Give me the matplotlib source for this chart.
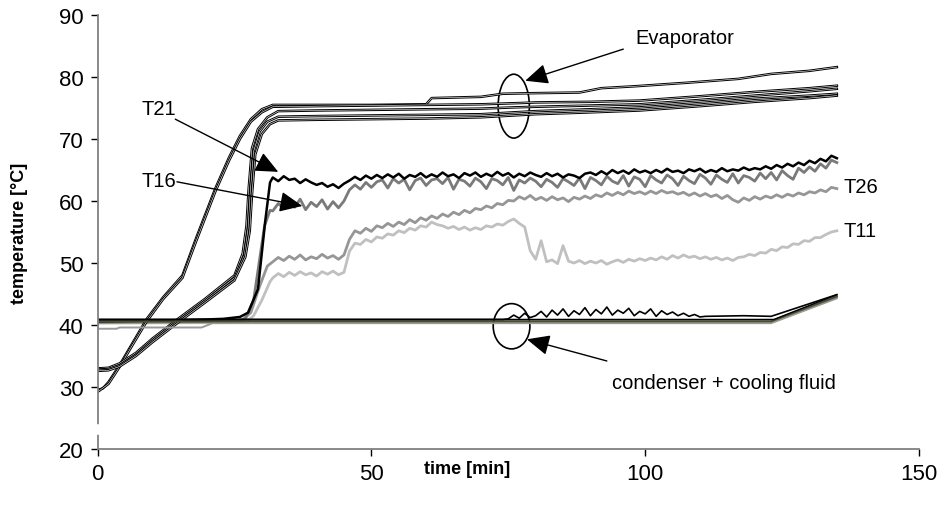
import numpy as np
import matplotlib.pyplot as plt
from matplotlib.patches import Ellipse

plt.rcParams['font.family'] = ['Liberation Sans', 'DejaVu Sans']

# evaporator thermocouples (time [min], temperature [C])
evap1_t = [0, 1, 2, 4, 6, 9, 12, 15.5, 18, 21.5, 24, 26, 28, 30, 32, 35, 40, 50, 60, 61, 70, 74, 80, 88, 92, 98, 108, 117, 123, 130, 135]
evap1_T = [29.5, 29.8, 30.8, 33.5, 36.5, 41, 44.5, 48, 54, 62, 67, 70.5, 73.2, 74.8, 75.5, 75.5, 75.5, 75.5, 75.6, 76.6, 76.8, 77.3, 77.4, 77.5, 78.2, 78.5, 79.1, 79.7, 80.5, 81.0, 81.6]
evap2_t = [0, 2, 4, 6, 9, 12, 15.5, 18, 21.5, 24, 26, 28, 30, 32, 40, 50, 60, 70, 77, 80, 90, 99, 110, 120, 130, 135]
evap2_T = [29.2, 30.5, 33.2, 36.2, 40.6, 44.2, 47.6, 53.5, 61.5, 66.5, 70, 72.8, 74.3, 75.2, 75.3, 75.4, 75.5, 75.6, 75.8, 75.9, 76.0, 76.2, 76.9, 77.6, 78.2, 78.6]
evap3_t = [0, 2, 4, 7, 10, 14.7, 19.6, 25, 26.5, 27.2, 27.6, 28.2, 29.3, 31, 33, 40, 50, 60, 70, 76, 80, 90, 99, 110, 120, 130, 135]
evap3_T = [33, 33.1, 33.8, 35.5, 37.8, 41, 44.2, 48, 51.5, 56, 62, 68.5, 71.6, 73.5, 74.5, 74.6, 74.7, 74.8, 74.9, 75.1, 75.2, 75.4, 75.6, 76.3, 77.0, 77.7, 78.1]
evap4_t = [0, 2, 4, 7, 10, 14.7, 19.6, 25, 26.8, 27.5, 27.9, 28.5, 29.6, 31, 33, 40, 50, 60, 70, 76, 80, 90, 99, 110, 120, 130, 135]
evap4_T = [32.8, 32.9, 33.5, 35.2, 37.5, 40.7, 43.9, 47.6, 51.2, 55.6, 61.5, 68, 71.2, 72.8, 73.6, 73.7, 73.8, 73.9, 74.0, 74.3, 74.5, 74.8, 75.1, 75.8, 76.5, 77.0, 77.3]
evap5_t = [0, 2, 4, 7, 10, 14.7, 19.6, 25, 27, 27.8, 28.2, 28.8, 30, 31.5, 33, 40, 50, 60, 70, 76, 80, 90, 99, 110, 120, 130, 135]
evap5_T = [32.6, 32.7, 33.3, 35.0, 37.2, 40.4, 43.6, 47.2, 51, 55.2, 61, 67.5, 70.8, 72.4, 73.0, 73.1, 73.2, 73.3, 73.5, 73.8, 74.0, 74.3, 74.6, 75.3, 76.0, 76.6, 77.0]

# condenser + cooling fluid
cond1_t = [0, 123.5, 135]
cond1_T = [40.9, 40.9, 44.9]
cond2_t = [0, 123, 135]
cond2_T = [40.6, 40.6, 44.6]
cond3_t = [0, 3.5, 4, 19, 21, 123, 135]
cond3_T = [39.4, 39.4, 39.6, 39.6, 40.3, 40.3, 44.3]
cond4_t = [0, 74] + list(range(75, 111)) + [111, 118, 123, 135]
cond4_T = [40.9, 40.9,
           41.0, 41.6, 41.1, 41.9, 41.2, 41.5, 42.2, 41.3, 42.4, 41.6, 42.6, 41.4,
           42.3, 41.7, 42.8, 41.5, 42.5, 41.8, 42.9, 41.6, 42.4, 41.9, 42.7, 41.5,
           42.2, 41.8, 42.6, 41.4, 42.3, 41.7, 42.1, 41.5, 41.9, 41.4, 41.7, 41.3,
           41.4, 41.5, 41.4, 44.9]

# noisy adiabatic-zone thermocouples, start-up part then one reading per minute
t_start21 = [0, 10, 20, 23, 26, 27.5, 29.3, 30.6, 31.5]
T_start21 = [40.6, 40.7, 40.9, 41.0, 41.3, 42.0, 45.8, 56.6, 63.0]
t_start16 = [0, 25, 27, 28.5, 29.5, 30.5, 31.5]
T_start16 = [40.5, 40.6, 41.0, 44.0, 50.0, 56.0, 58.5]
t_start26 = [0, 26, 28, 29.5, 31]
T_start26 = [40.4, 40.5, 42.0, 46.0, 49.5]
t_start11 = [0, 27, 28.5, 30, 31.5]
T_start11 = [40.3, 40.4, 41.5, 44.0, 47.0]
t_run = list(range(32, 136))

T21 = [63.8, 63.2, 64.0, 63.4, 63.6, 62.9, 63.5, 63.0, 62.6, 62.9,
       62.3, 62.7, 62.1, 62.8, 63.3, 63.9, 63.4, 64.1, 63.6, 64.2,
       63.7, 64.3, 63.8, 64.4, 63.6, 64.2, 63.9, 64.5, 63.8, 64.3,
       63.9, 64.6, 64.0, 64.3, 63.7, 64.5, 64.1, 64.6, 63.9, 64.4,
       64.0, 64.7, 64.1, 64.5, 63.8, 64.4, 64.0, 64.6, 64.2, 63.9,
       64.5, 64.0, 64.4, 63.8, 64.3, 64.1, 63.7, 64.4, 64.6, 64.2,
       64.8, 64.3, 65.0, 64.5, 64.9, 64.4, 65.1, 64.6, 64.9, 64.5,
       65.0, 64.6, 65.2, 64.7, 64.9, 64.5, 65.1, 64.8, 65.2, 64.6,
       65.0, 64.7, 65.3, 64.8, 65.1, 64.9, 65.4, 65.0, 65.3, 65.1,
       65.6, 65.2, 65.8, 65.4, 66.0, 65.6, 66.2, 65.8, 66.5, 66.1,
       66.8, 66.4, 67.3, 66.9]
T16 = [58.4, 59.6, 58.8, 60.1, 59.0, 60.3, 58.6, 59.8, 59.1, 60.2,
       58.7, 59.9, 58.9, 60.0,
       61.8, 62.6, 61.9, 63.0, 62.2, 63.1,
       63.4, 62.1, 63.6, 62.9, 63.5, 61.8, 63.3, 63.7, 62.5, 63.4,
       63.6, 62.8, 63.8, 61.9, 63.5, 63.2, 62.4, 63.7, 63.1, 62.0,
       63.6, 63.3, 62.6, 63.8, 61.7, 63.4, 62.9, 63.7, 63.2, 62.3,
       63.5, 63.0, 62.2, 63.6, 63.1, 62.5, 63.7, 62.0, 63.8, 63.3,
       62.6, 64.0, 63.2, 62.8, 64.1, 62.4, 63.9, 63.5, 62.3, 64.1,
       63.4, 62.9, 64.2, 63.6, 62.5, 64.0, 63.3, 62.8, 64.3, 63.7,
       62.7, 64.2, 63.5, 63.0, 64.4, 62.9, 64.1, 63.8, 63.2, 64.5,
       63.6, 64.6, 63.4, 64.9, 64.1, 63.5, 65.3, 64.6, 65.5, 64.8,
       66.0, 65.3, 66.6, 66.2]
T26 = [50.2, 50.9, 50.4, 51.1, 50.6, 51.3, 50.5, 51.0, 50.7, 51.4,
       50.8, 51.2, 50.6, 51.3,
       53.8, 55.2, 54.8, 55.6, 55.1, 56.0,
       55.7, 56.4, 55.9, 56.6, 56.2, 57.0, 56.5, 57.3, 56.9, 57.6,
       57.2, 57.9, 57.5, 58.2, 57.8, 58.5, 58.1, 58.8, 58.6, 59.2,
       58.9, 59.6, 59.4, 60.1, 60.0, 60.7, 60.3, 60.9, 60.2, 60.6,
       60.1, 60.7, 60.2, 60.5, 59.9, 60.6, 60.3, 60.8, 60.4, 61.0,
       60.7, 61.3, 60.9, 61.4, 61.0, 61.6, 61.2, 61.5, 61.1, 61.6,
       61.2, 61.7, 61.3, 61.5, 61.1, 61.4, 60.9, 61.3, 60.8, 61.2,
       60.7, 61.0, 60.4, 60.9, 60.2, 59.8, 60.5, 60.1, 60.7, 60.3,
       60.8, 60.5, 61.0, 60.6, 61.1, 60.8, 61.3, 61.0, 61.5, 61.3,
       61.8, 61.5, 62.2, 62.0]
T11 = [47.6, 48.3, 47.8, 48.5, 48.0, 48.6, 48.1, 48.4, 47.9, 48.6,
       48.2, 48.7, 48.1, 48.5,
       51.9, 53.2, 53.0, 53.8, 53.4, 54.2,
       54.0, 54.7, 54.5, 55.2, 54.9, 55.6, 55.3, 56.0, 55.8, 56.6,
       56.2, 56.0, 55.6, 55.9, 55.4, 55.8, 55.3, 55.7, 55.4, 56.0,
       55.8, 56.3, 56.1, 56.7, 57.1, 56.4, 55.8, 52.0, 50.6, 53.6,
       50.2, 50.5, 49.9, 52.8, 50.3, 50.0, 50.4, 49.9, 50.3, 50.0,
       50.4, 49.8, 50.2, 50.5, 50.1, 50.6, 50.3, 50.7, 50.4, 50.8,
       50.5, 51.0, 50.6, 51.2, 50.8, 51.3, 50.9, 51.1, 50.7, 51.0,
       50.6, 50.9, 50.5, 50.8, 50.4, 50.9, 51.0, 51.4, 51.2, 51.7,
       51.6, 52.2, 52.0, 52.6, 52.5, 53.1, 53.0, 53.6, 53.5, 54.1,
       54.1, 54.6, 55.0, 55.2]

fig = plt.figure(figsize=(9.45, 5.1), dpi=100)
ax = fig.add_axes([0.1032, 0.1176, 0.8693, 0.851])

# adiabatic zone
ax.plot(t_start11 + t_run, T_start11 + T11, color='#c0c0c0', lw=2.0)
ax.plot(t_start26 + t_run, T_start26 + T26, color='#969696', lw=2.0)
ax.plot(t_start16 + t_run, T_start16 + T16, color='#7a7a7a', lw=2.0)
ax.plot(t_start21 + t_run, T_start21 + T21, color='black', lw=1.8)

# evaporator, drawn as hollow lines like the original
for tt, TT in [(evap1_t, evap1_T), (evap2_t, evap2_T), (evap3_t, evap3_T),
               (evap4_t, evap4_T), (evap5_t, evap5_T)]:
    ax.plot(tt, TT, color='black', lw=1.8)
    ax.plot(tt, TT, color='white', lw=0.4)

# condenser
ax.plot(cond3_t, cond3_T, color='#999999', lw=1.4)
ax.plot(cond2_t, cond2_T, color='#4d4d33', lw=1.6)
ax.plot(cond1_t, cond1_T, color='black', lw=1.0)
ax.plot(cond4_t, cond4_T, color='black', lw=1.2)

# annotations
arrow = dict(arrowstyle='-|>,head_length=1.0,head_width=0.45', mutation_scale=14,
             color='black', lw=1.0, shrinkA=0, shrinkB=0)
ax.annotate('', xy=(33.0, 64.7), xytext=(14.2, 73.2), arrowprops=arrow)
ax.text(8.0, 75.0, 'T21', fontsize=14.5, va='center', ha='left')
ax.annotate('', xy=(37.4, 59.2), xytext=(14.5, 63.1), arrowprops=arrow)
ax.text(8.0, 63.3, 'T16', fontsize=14.5, va='center', ha='left')
ax.annotate('', xy=(78.1, 79.4), xytext=(96.0, 84.5), arrowprops=arrow)
ax.text(98.2, 86.3, 'Evaporator', fontsize=14.5, va='center', ha='left')
ax.annotate('', xy=(78.4, 37.7), xytext=(93.0, 34.2), arrowprops=arrow)
ax.text(93.9, 30.8, 'condenser + cooling fluid', fontsize=14.5, va='center', ha='left')
ax.text(136.3, 62.3, 'T26', fontsize=14.5, va='center', ha='left')
ax.text(136.3, 55.2, 'T11', fontsize=14.5, va='center', ha='left')
ax.add_patch(Ellipse((76.0, 75.3), 5.7, 10.3, fill=False, ec='black', lw=1.2))
ax.add_patch(Ellipse((75.6, 39.8), 6.7, 7.3, fill=False, ec='black', lw=1.2))

ax.set_xlim(0, 150)
ax.set_ylim(20, 90)
ax.set_xticks([0, 50, 100, 150])
ax.set_yticks(range(20, 91, 10))
ax.tick_params(labelsize=16, length=5, width=1, direction='out', pad=5)
for s in ['top', 'right']:
    ax.spines[s].set_visible(False)
for s in ['left', 'bottom']:
    ax.spines[s].set_color('#808080')
    ax.spines[s].set_linewidth(1.3)
# small break in the y axis above 20
ax.plot([0, 0], [22.7, 23.6], color='white', lw=4, clip_on=False, zorder=5)

ax.set_xlabel('time [min]', fontsize=13, fontweight='bold')
ax.xaxis.set_label_coords(0.45, -0.025)
ax.xaxis.label.set_va('top')
ax.set_ylabel('temperature [°C]', fontsize=13, fontweight='bold')
ax.yaxis.set_label_coords(-0.085, 0.5)

plt.savefig('out.png', dpi=100, facecolor='w')
